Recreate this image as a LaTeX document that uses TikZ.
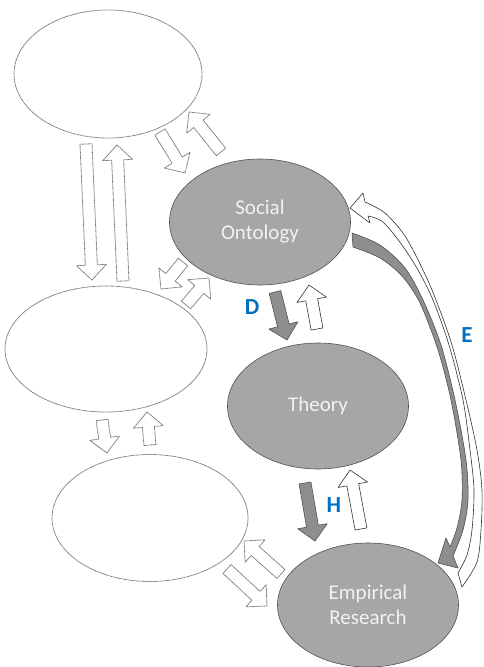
\documentclass[tikz,border=0pt]{standalone}
\usepackage{fontspec}
\setmainfont{Carlito}
\usetikzlibrary{shapes.geometric}
\usetikzlibrary{calc}

\definecolor{boxgray}{HTML}{A6A6A6}
\definecolor{arrowgray}{HTML}{8E8E8E}
\definecolor{linegray}{HTML}{505050}
\definecolor{labelblue}{HTML}{0070C0}

\tikzset{
  topic/.style={ellipse, draw=linegray, fill=boxgray, line width=0.6pt, text=white!95!black,
    align=center, inner sep=0pt, font=\fontsize{21}{25}\selectfont},
  blank/.style={ellipse, draw=gray!85!black, line width=0.8pt, dash pattern=on 0.7pt off 0.5pt, inner sep=0pt},
  dotarrow/.style={draw=gray!85!black, fill=white, line width=0.8pt, dash pattern=on 0.7pt off 0.5pt, line join=round},
  grayarrow/.style={draw=linegray, fill=arrowgray, line width=0.6pt, line join=round},
  whitearrow/.style={draw=black!80, fill=white, line width=0.6pt, line join=round},
  letter/.style={text=labelblue, font=\fontsize{23}{27}\selectfont\bfseries},
}

% block arrow from tail #2 to tip #3
\newcommand{\blockarrow}[3][]{%
  \coordinate (ba-c) at ($(#3)!15pt!(#2)$);
  \filldraw[#1] ($(#2)!6pt!90:(#3)$) -- ($(ba-c)!6pt!-90:(#2)$) -- ($(ba-c)!15pt!-90:(#2)$) -- (#3)
    -- ($(ba-c)!15pt!90:(#2)$) -- ($(ba-c)!6pt!90:(#2)$) -- ($(#2)!6pt!-90:(#3)$) -- cycle;
}

\begin{document}
\begin{tikzpicture}[x=1pt,y=-1pt]
	\useasboundingbox (0,0) rectangle (483,667);
	%\draw[gray!30,step=50] (0,0) grid (483,667);
	\node[blank, minimum width=188, minimum height=128] (topleft) at (108,74) {};
	\node[blank, minimum width=202, minimum height=126] (midleft) at (106,349) {};
	\node[blank, minimum width=196, minimum height=127] (botleft) at (150,518) {};
	\node[topic, minimum width=181, minimum height=126] (ontology) at (260,222) {Social\\Ontology};
	\node[topic, minimum width=181, minimum height=126] (theory) at (318,406) {Theory};
	\node[topic, minimum width=181, minimum height=124] (research) at (368,605) {Empirical\\Research};

	\node[letter] (lblD) at (252,307) {D};
	\node[letter] (lblH) at (334,505) {H};
	\node[letter] (lblE) at (467,335) {E};

	% arrow ends
	\coordinate (a1) at (160,132); \coordinate (a2) at (185,173);
	\coordinate (a3) at (221,152); \coordinate (a4) at (189,112);
	\coordinate (b1) at (86,144);  \coordinate (b2) at (92,280);
	\coordinate (b3) at (123,281); \coordinate (b4) at (117,145);
	\coordinate (c1) at (183,262); \coordinate (c2) at (161,289);
	\coordinate (c3) at (186,305); \coordinate (c4) at (209,278);
	\coordinate (d1) at (275,292); \coordinate (d2) at (287,340);
	\coordinate (d3) at (317,329); \coordinate (d4) at (309,285);
	\coordinate (f1) at (102,420); \coordinate (f2) at (107,453);
	\coordinate (f3) at (150,445); \coordinate (f4) at (147,412);
	\coordinate (h1) at (305,483); \coordinate (h2) at (315,541);
	\coordinate (h3) at (361,529); \coordinate (h4) at (350,470);
	\coordinate (g1) at (281,574); \coordinate (g2) at (244,541);
	\coordinate (g3) at (227,569); \coordinate (g4) at (267,606);

	\blockarrow[dotarrow]{a1}{a2}
	\blockarrow[dotarrow]{a3}{a4}
	\blockarrow[dotarrow]{b1}{b2}
	\blockarrow[dotarrow]{b3}{b4}
	\blockarrow[dotarrow]{c1}{c2}
	\blockarrow[dotarrow]{c3}{c4}
	\blockarrow[grayarrow]{d1}{d2}
	\blockarrow[whitearrow]{d3}{d4}
	\blockarrow[dotarrow]{f1}{f2}
	\blockarrow[dotarrow]{f3}{f4}
	\blockarrow[grayarrow]{h1}{h2}
	\blockarrow[whitearrow]{h3}{h4}
	\blockarrow[dotarrow]{g1}{g2}
	\blockarrow[dotarrow]{g3}{g4}

	% long curved arrows (E)
	\filldraw[grayarrow] plot[smooth] coordinates {(352,233) (380,245) (405,268) (423,300) (441,345)
		(455,400) (466,460) (468,500) (463,530) (453,556)}
		-- (458,568) -- (438,563) -- (446,538)
		-- plot[smooth] coordinates {(450,547) (457,528) (462,500) (461,460) (451,400) (438,350)
		(420,303) (402,276) (380,258) (353,247)} -- cycle;
	\filldraw[whitearrow] plot[smooth] coordinates {(462,587) (477,562) (481,530) (482,490) (477,450)
		(466,400) (452,345) (436,300) (423,270) (405,236) (385,213) (365,202)}
		-- (363,193) -- (350,208) -- (370,223)
		-- plot[smooth] coordinates {(368,216) (383,222) (402,245) (418,270) (433,300) (449,345)
		(463,400) (470,450) (474,490) (472,530) (467,555) (458,573)} -- cycle;
\end{tikzpicture}
\end{document}
